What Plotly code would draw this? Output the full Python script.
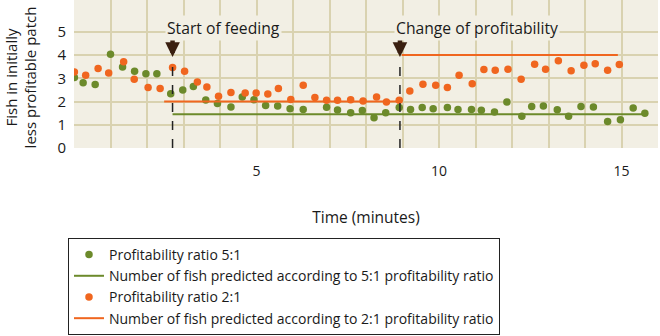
import plotly.graph_objects as go

# ---- data ----
green_t = [0.01, 0.25, 0.58, 1.00, 1.33, 1.66, 1.97, 2.27, 2.65, 2.98, 3.27, 3.61, 3.93,
           4.30, 4.61, 4.93, 5.25, 5.58, 5.92, 6.28, 6.92, 7.22, 7.58, 7.90, 8.22, 8.54,
           8.91, 9.22, 9.54, 9.84, 10.23, 10.52, 10.89, 11.16, 11.52, 11.86, 12.27, 12.54,
           12.86, 13.24, 13.55, 13.89, 14.23, 14.62, 14.97, 15.32, 15.64]
green_v = [3.03, 2.81, 2.73, 4.04, 3.49, 3.30, 3.20, 3.20, 2.34, 2.50, 2.65, 2.07, 1.92,
           1.76, 2.19, 2.08, 1.83, 1.81, 1.69, 1.66, 1.75, 1.64, 1.52, 1.61, 1.30, 1.52,
           1.74, 1.66, 1.74, 1.69, 1.74, 1.66, 1.66, 1.62, 1.55, 1.98, 1.37, 1.79,
           1.81, 1.65, 1.37, 1.79, 1.76, 1.14, 1.22, 1.72, 1.50]

orange_t = [0.01, 0.32, 0.66, 0.95, 1.36, 1.65, 2.03, 2.36, 2.70, 3.03, 3.38, 3.64, 3.96,
            4.30, 4.69, 4.99, 5.31, 5.60, 5.94, 6.28, 6.60, 6.92, 7.22, 7.58, 7.92, 8.29,
            8.56, 8.91, 9.20, 9.56, 9.91, 10.23, 10.55, 10.91, 11.23, 11.54, 11.89, 12.25,
            12.62, 12.92, 13.27, 13.62, 13.97, 14.28, 14.62, 14.94]
orange_v = [3.27, 3.13, 3.42, 3.23, 3.71, 2.96, 2.60, 2.56, 3.47, 3.30, 2.84, 2.63, 2.23,
            2.39, 2.37, 2.37, 2.32, 2.56, 2.09, 2.70, 2.17, 2.05, 2.05, 2.08, 2.02, 2.19,
            1.98, 2.05, 2.45, 2.74, 2.70, 2.60, 3.13, 2.77, 3.38, 3.35, 3.39, 2.96,
            3.60, 3.39, 3.75, 3.32, 3.56, 3.63, 3.35, 3.59]

# predicted numbers of fish
green_pred_t = [2.70, 15.70]
green_pred_v = [1.45, 1.45]
orange_pred_t = [2.47, 8.93, None, 8.98, 14.90]
orange_pred_v = [2.0, 2.0, None, 4.0, 4.0]

feeding_start = 2.70
change_time = 8.93

x_tickvals = list(range(0, 17))
x_ticktext = ["" if v % 5 else str(v) for v in x_tickvals]
x_ticktext[0] = ""
y_tickvals = [0, 1, 2, 3, 4, 5]

GREEN = "#6c8a2b"
ORANGE = "#f0661f"
GRID = "#d9d2b0"
BG = "#f2efe4"
FONT = "Open Sans"

fig = go.Figure()
fig.add_trace(go.Scatter(x=green_t, y=green_v, mode="markers",
                         marker=dict(color=GREEN, size=7.5),
                         name="Profitability ratio 5:1"))
fig.add_trace(go.Scatter(x=green_pred_t, y=green_pred_v, mode="lines",
                         line=dict(color=GREEN, width=2),
                         name="Number of fish predicted according to 5:1 profitability ratio"))
fig.add_trace(go.Scatter(x=orange_t, y=orange_v, mode="markers",
                         marker=dict(color=ORANGE, size=7.5),
                         name="Profitability ratio 2:1"))
fig.add_trace(go.Scatter(x=orange_pred_t, y=orange_pred_v, mode="lines",
                         line=dict(color=ORANGE, width=2), connectgaps=False,
                         name="Number of fish predicted according to 2:1 profitability ratio"))

for xt in (feeding_start, change_time):
    fig.add_shape(type="line", xref="x", yref="y", x0=xt, x1=xt, y0=0, y1=3.78,
                  line=dict(color="#222222", width=1.5, dash="dash"), layer="above")
    fig.add_annotation(x=xt, y=3.92, xref="x", yref="y", text="", showarrow=True,
                       ax=0, ay=-20, arrowhead=2, arrowsize=0.65, arrowwidth=4.5,
                       arrowcolor="#3a1f10")

fig.add_annotation(x=2.50, y=5.15, xref="x", yref="y", text="Start of feeding",
                   showarrow=False, xanchor="left", yanchor="middle",
                   bgcolor=BG, font=dict(family=FONT, size=15.7, color="#1a1a1a"))
fig.add_annotation(x=8.76, y=5.15, xref="x", yref="y", text="Change of profitability",
                   showarrow=False, xanchor="left", yanchor="middle",
                   bgcolor=BG, font=dict(family=FONT, size=15.7, color="#1a1a1a"))

# y-axis title (two lines, rotated)
fig.add_annotation(x=-0.0905, y=0.478, xref="paper", yref="paper",
                   text="Fish in initially<br>less profitable patch", textangle=-90,
                   showarrow=False, xanchor="center", yanchor="middle",
                   font=dict(family=FONT, size=15, color="#1a1a1a"))

fig.update_layout(
    width=660, height=336,
    margin=dict(l=74, r=2, t=0, b=188),
    paper_bgcolor="white", plot_bgcolor=BG,
    font=dict(family=FONT, size=14, color="#1a1a1a"),
    showlegend=True,
    legend=dict(x=-0.0103, y=-0.608, xanchor="left", yanchor="top",
                bordercolor="#222222", borderwidth=1, bgcolor="white",
                font=dict(family=FONT, size=14, color="#1a1a1a"),
                tracegroupgap=0, itemwidth=30),
    xaxis=dict(range=[0, 16], tickvals=x_tickvals, ticktext=x_ticktext,
               showgrid=True, gridcolor=GRID, gridwidth=2, zeroline=False,
               showline=False, ticks="", ticklabelstandoff=13,
               tickfont=dict(size=14),
               title=dict(text="Time (minutes)", font=dict(size=15.5), standoff=33)),
    yaxis=dict(range=[0, 6.37], tickvals=y_tickvals,
               showgrid=True, gridcolor=GRID, gridwidth=2, zeroline=False,
               showline=False, ticks="", ticklabelstandoff=7,
               tickfont=dict(size=15)),
)

fig.write_html("out.html")
